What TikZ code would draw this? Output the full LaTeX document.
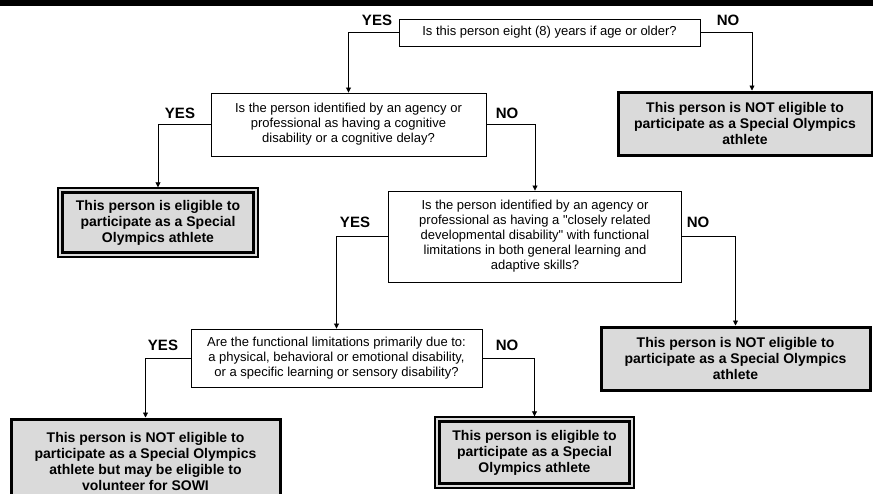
\documentclass[tikz,border=0pt]{standalone}
\usepackage{fontspec}
\newfontfamily\arialfont{Liberation Sans}
\usetikzlibrary{arrows.meta}
\definecolor{resgray}{RGB}{218,218,218}
\begin{document}
\begin{tikzpicture}[x=1pt,y=-1pt,
  qbox/.style={draw=black, line width=0.9pt, fill=white, inner sep=0pt, align=center,
    font=\arialfont\fontsize{13}{15}\selectfont},
  nobox/.style={draw=black, line width=3pt, fill=resgray, inner sep=0pt, align=center,
    font=\arialfont\bfseries\fontsize{14}{16}\selectfont},
  yesbox/.style={draw=black, line width=1.4pt, fill=resgray, inner sep=0pt, align=center,
    font=\arialfont\bfseries\fontsize{14}{16}\selectfont,
    path picture={\draw[line width=3.5pt]
      ([shift={(4.5pt,-4.5pt)}]path picture bounding box.north west) rectangle
      ([shift={(-4.5pt,4.5pt)}]path picture bounding box.south east);}},
  lbl/.style={font=\arialfont\bfseries\fontsize{15}{15}\selectfont, inner sep=0pt},
  conn/.style={draw=black, line width=0.8pt, -{Triangle[length=5pt,width=5pt]}}
]
\useasboundingbox (0,0) rectangle (873,493);
\clip (0,0) rectangle (873,493);
\fill[black] (0,0) rectangle (873,5.5);

\node[qbox, minimum width=301pt, minimum height=27pt] (q1) at (549.5,32.5)
  {Is this person eight (8) years if age or older?};
\node[qbox, minimum width=275pt, minimum height=63pt] (q2) at (348.5,124.5)
  {Is the person identified by an agency or\\professional as having a cognitive\\disability or a cognitive delay?};
\node[qbox, minimum width=293pt, minimum height=91pt] (q3) at (535,236.5)
  {Is the person identified by an agency or\\professional as having a "closely related\\developmental disability" with functional\\limitations in both general learning and\\adaptive skills?};
\node[qbox, minimum width=291pt, minimum height=58pt] (q4) at (336.5,358)
  {Are the functional limitations primarily due to:\\a physical, behavioral or emotional disability,\\or a specific learning or sensory disability?};

\node[nobox, minimum width=254pt, minimum height=63pt] (n1) at (745,123.5)
  {This person is NOT eligible to\\participate as a Special Olympics\\athlete};
\node[yesbox, minimum width=200pt, minimum height=69pt] (e1) at (158,222.5)
  {This person is eligible to\\participate as a Special\\Olympics athlete};
\node[nobox, minimum width=269pt, minimum height=63pt] (n2) at (735.5,358.5)
  {This person is NOT eligible to\\participate as a Special Olympics\\athlete};
\node[nobox, minimum width=269pt, minimum height=84pt] (n3) at (145.5,461)
  {This person is NOT eligible to\\participate as a Special Olympics\\athlete but may be eligible to\\volunteer for SOWI};
\node[yesbox, minimum width=199pt, minimum height=71pt] (e2) at (534.5,452.5)
  {This person is eligible to\\participate as a Special\\Olympics athlete};

\draw[conn] (q1.west) -| (q2.north);
\draw[conn] (q1.east) -| ([xshift=7pt]n1.north);
\draw[conn] (q2.west) -| (e1.north);
\draw[conn] (q2.east) -| (q3.north);
\draw[conn] (q3.west) -| (q4.north);
\draw[conn] (q3.east) -| (n2.north);
\draw[conn] (q4.west) -| (n3.north);
\draw[conn] (q4.east) -| (e2.north);

\node[lbl] (l1) at (377,20) {YES};
\node[lbl] (l2) at (728,20) {NO};
\node[lbl] (l3) at (180,113) {YES};
\node[lbl] (l4) at (507,113) {NO};
\node[lbl] (l5) at (355,222) {YES};
\node[lbl] (l6) at (698,222) {NO};
\node[lbl] (l7) at (163,345) {YES};
\node[lbl] (l8) at (507,345) {NO};
\end{tikzpicture}
\end{document}
